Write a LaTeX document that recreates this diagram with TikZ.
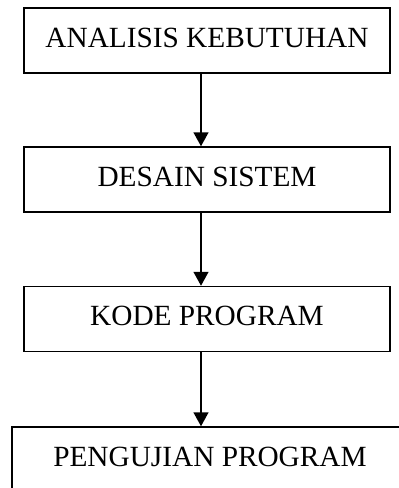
\documentclass[tikz,border=0pt]{standalone}
\usepackage{fontspec}
\setmainfont{Liberation Serif}
\usetikzlibrary{arrows.meta}
\begin{document}
\begin{tikzpicture}[x=1pt,y=-1pt,
  stepbox/.style={draw=black, line width=1.5pt, rectangle, inner sep=0pt,
    minimum width=366pt, minimum height=65pt, text height=20pt, text depth=7pt,
    font=\fontsize{29.3}{35}\selectfont},
  flow/.style={line width=1.5pt, -{Triangle[width=15pt,length=14pt]}}]
\clip (0,0) rectangle (399,488);
\fill[white] (0,0) rectangle (399,488);
\node[stepbox] (a) at (207,40.5) {ANALISIS KEBUTUHAN};
\node[stepbox] (b) at (207,179.5) {DESAIN SISTEM};
\node[stepbox] (c) at (207,319) {KODE PROGRAM};
\node[stepbox, minimum width=396pt] (d) at (210,459.5) {PENGUJIAN PROGRAM};
\draw[flow] (a.south -| 201,0) -- (b.north -| 201,0);
\draw[flow] (b.south -| 201,0) -- (c.north -| 201,0);
\draw[flow] (c.south -| 201,0) -- (d.north -| 201,0);
\end{tikzpicture}
\end{document}
